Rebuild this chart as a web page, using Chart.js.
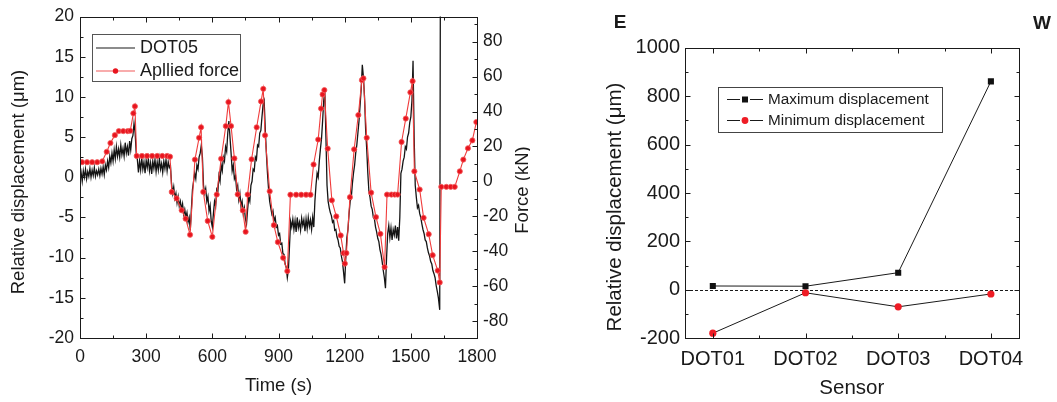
<!DOCTYPE html>
<html><head><meta charset="utf-8">
<script src="https://cdn.jsdelivr.net/npm/chart.js@4.4.0/dist/chart.umd.min.js"></script>
<style>
html,body{margin:0;padding:0;background:#fff;}
#wrap{position:relative;width:1057px;height:402px;overflow:hidden;}
#c1{position:absolute;left:0;top:0;}
#c2{position:absolute;left:530px;top:0;}
</style></head><body>
<div id="wrap"><canvas id="c1" width="530" height="402"></canvas><canvas id="c2" width="527" height="402"></canvas></div>
<script>
// ---------- data ----------
const timeTicks = [0,300,600,900,1200,1500,1800];
const dispTicks = [-20,-15,-10,-5,0,5,10,15,20];
const forceTicks = [-80,-60,-40,-20,0,20,40,60,80];

// DOT05 relative displacement [time s, displacement um]
const dot05 = [
[0,-0.3],[5,0.6],[10,-0.5],[15,0.8],[20,0.0],[25,1.0],[30,-0.2],[35,0.7],[40,0.1],[45,1.1],[50,0.0],[55,0.9],[60,0.2],[65,1.2],[70,0.1],[75,0.8],[80,0.3],[85,1.0],[90,0.2],[95,1.1],[100,0.4],[105,1.3],
[110,0.3],[115,1.5],[120,0.9],[125,2.0],[130,1.2],[135,2.6],[140,1.8],[145,3.0],[150,2.0],[155,3.4],[160,2.3],[165,3.8],[170,2.6],[175,3.5],[180,2.5],[185,4.0],[190,2.8],[195,3.6],[200,2.6],[205,4.3],[210,3.0],[215,3.8],[220,2.7],[225,4.5],[230,3.4],[235,4.8],[240,5.2],[245,6.7],[250,5.5],[255,3.0],
[260,2.2],[265,0.6],[270,2.0],[275,0.9],[280,2.4],[285,1.0],[290,1.9],[295,0.5],[300,2.1],[305,1.2],[310,2.3],[315,0.8],[320,1.8],[325,0.4],[330,2.0],[335,1.1],[340,2.2],[345,0.7],[350,1.9],[355,0.9],[360,2.3],[365,1.0],[370,1.7],[375,0.6],[380,2.0],[385,1.1],[390,2.2],[395,0.8],[400,1.9],[405,1.2],[410,1.5],
[415,-0.8],[420,-2.0],[425,-1.2],[430,-2.6],[435,-2.0],[440,-3.2],[445,-2.4],[450,-3.6],[455,-3.0],[460,-4.0],[465,-3.3],[470,-4.6],[475,-4.0],[480,-5.0],[485,-4.4],[490,-5.6],[495,-5.0],[500,-6.6],
[505,-4.0],[510,-1.5],[515,-0.5],[520,0.5],[525,-0.2],[530,1.5],[535,1.0],[540,2.5],[545,3.0],[550,4.0],[555,2.5],
[560,-1.0],[565,-2.0],[570,-1.4],[575,-3.0],[580,-2.4],[585,-4.2],[590,-3.5],[595,-5.5],[600,-6.2],
[605,-4.5],[610,-3.0],[615,-3.6],[620,-1.5],[625,-1.8],[630,0.2],[635,-0.5],[640,1.5],[645,0.8],[650,2.5],[655,2.0],[660,3.8],[665,3.2],[670,5.5],[675,7.0],[680,5.0],
[685,3.0],[690,0.8],[695,1.5],[700,-0.2],[705,0.2],[710,-1.5],[715,-1.0],[720,-2.8],[725,-2.0],[730,-3.6],[735,-3.0],[740,-4.5],[745,-3.8],[750,-5.2],[755,-5.8],
[760,-4.0],[765,-2.5],[770,-3.0],[775,-1.0],[780,-0.5],[785,1.0],[790,0.8],[795,2.5],[800,2.2],[805,4.0],[810,3.8],[815,5.5],[820,5.8],[825,7.5],[830,9.0],[835,9.5],
[840,6.0],[845,3.0],[850,0.5],[855,-1.5],[860,-3.0],[865,-3.8],[870,-4.6],[875,-4.2],[880,-5.4],[885,-5.0],[890,-6.2],[895,-6.0],[900,-7.2],[905,-7.0],[910,-8.3],[915,-8.2],[920,-9.5],[925,-9.6],[930,-10.8],[935,-11.2],[940,-12.5],[945,-11.5],
[950,-8.5],[955,-5.5],
[960,-6.2],[965,-5.2],[970,-6.5],[975,-5.4],[980,-6.8],[985,-5.0],[990,-6.3],[995,-5.6],[1000,-6.6],[1005,-5.1],[1010,-6.0],[1015,-5.3],[1020,-6.7],[1025,-5.2],[1030,-6.4],[1035,-5.0],[1040,-6.1],[1045,-5.3],[1050,-6.5],[1055,-5.0],[1060,-6.2],
[1065,-3.0],[1070,-1.0],[1075,0.5],[1080,0.0],[1085,2.0],[1090,3.5],[1095,4.8],[1100,7.0],[1105,9.5],[1110,10.8],
[1115,5.0],[1120,-1.0],[1125,-3.0],[1130,-3.8],[1135,-4.4],[1140,-4.8],[1145,-5.6],[1150,-5.4],[1155,-6.6],[1160,-6.5],[1165,-7.4],[1170,-7.8],[1175,-8.6],[1180,-8.8],[1185,-9.8],[1190,-10.5],[1195,-11.8],[1200,-13.2],
[1205,-10.0],[1210,-7.5],[1215,-6.5],[1220,-4.5],[1225,-3.0],[1230,-2.5],[1235,-0.8],[1240,0.5],[1245,1.5],[1250,3.0],[1255,4.0],[1260,5.5],[1265,7.0],[1270,9.0],[1275,11.0],[1280,14.0],[1285,12.5],
[1290,10.0],[1295,6.0],[1300,3.5],[1305,0.5],[1310,-1.8],[1315,-2.5],[1320,-3.6],[1325,-4.0],[1330,-5.0],[1335,-5.2],[1340,-6.2],[1345,-6.8],[1350,-7.6],[1355,-8.0],[1360,-9.0],[1365,-9.6],[1370,-10.5],[1375,-11.6],[1380,-12.5],[1385,-13.8],
[1390,-10.0],[1395,-7.0],
[1400,-6.0],[1405,-7.5],[1410,-6.3],[1415,-7.8],[1420,-6.5],[1425,-7.2],[1430,-6.0],[1435,-7.6],[1440,-6.2],[1445,-7.9],[1450,-5.0],
[1455,0.5],[1460,1.0],[1465,2.0],[1470,2.5],[1475,3.8],[1480,3.5],[1485,5.0],[1490,5.5],[1495,6.8],[1500,7.5],[1505,9.5],[1510,14.5],
[1515,5.0],[1520,-1.0],[1525,-2.5],[1530,-3.8],[1535,-3.5],[1540,-4.5],[1545,-5.0],[1550,-5.8],[1555,-6.5],[1560,-7.0],[1565,-7.8],[1570,-8.0],[1575,-8.8],[1580,-9.4],[1585,-9.8],[1590,-10.5],[1595,-10.8],[1600,-11.6],[1605,-12.0],[1610,-12.5],[1615,-13.5],[1620,-14.2],[1625,-15.0],[1631,-16.5],[1634,25]
];

// Applied force [time s, force kN]
const appliedForce = [
[9,11],[32,11],[55,11],[78,11],[101,11.5],[121,17],[138,22],[158,26.5],[176,28.8],[196,28.8],[216,28.8],[228,29],[242,39],[249,43],
[257,14.6],[281,14.6],[304,14.6],[327,14.6],[350,14.6],[373,14.6],[395,14.6],[408,14.2],
[416,-6],[438,-9.7],[461,-16.5],[479,-21.3],[499,-30.5],[521,12.5],[540,25],[549,31],[559,-6],[579,-22.6],[600,-31.7],
[620,-7.5],[640,13],[661,31.7],[673,45.4],[685,31.7],[700,13.2],[715,-7.4],[738,-16.6],[751,-28.8],
[760,-7.5],[778,12.7],[801,31],[821,45.8],[831,53],[839,26.4],[860,-5.6],[879,-25],[897,-34.7],[921,-43.7],[940,-51.3],
[954,-7.6],[980,-7.6],[1003,-7.6],[1025,-7.6],[1045,-7.6],[1059,9.7],[1080,24],[1093,41.7],[1100,49.8],[1108,52.3],
[1123,18.8],[1142,-10.8],[1162,-20],[1182,-30.9],[1195,-41],[1201,-47],[1208,-41],[1224,-9],[1243,18.4],[1262,38],[1278,58],[1285,59],
[1300,25],[1320,-6.4],[1342,-20.4],[1362,-30],[1381,-49],[1392,-7.5],[1412,-7.5],[1427,-7.5],[1440,-7.5],
[1458,22.6],[1477,36],[1498,51],[1508,57.4],[1516,5.8],[1540,-4.6],[1558,-20.8],[1581,-30.2],[1599,-42.2],[1622,-51],[1631,-57.8],
[1638,-3.1],[1661,-3.1],[1681,-3.1],[1699,-3.1],[1722,5.8],[1738,12.5],[1759,19],[1779,23.5],[1797,34]
];

const sensors = ['DOT01','DOT02','DOT03','DOT04'];
const maxDisp = [16, 15, 71, 861];
const minDisp = [-179, -12, -70, -17];
const sensorDispTicks = [-200,0,200,400,600,800,1000];

// ---------- helpers ----------
const FONT = '"Liberation Sans", Arial, Helvetica, sans-serif';
const INK = '#1a1a1a';
const plain = v => String(v);

function minorOf(ticks, min, max){
  const step = ticks[1]-ticks[0];
  const out = [];
  for (let i=0;i<ticks.length-1;i++) out.push((ticks[i]+ticks[i+1])/2);
  out.push(ticks[0]-step/2, ticks[ticks.length-1]+step/2);
  return out.filter(v => v>=min && v<=max);
}
function crisp(v){ return Math.round(v)+0.5; }
function drawTickSet(ctx, chart, scaleId, majors, sides){
  const s = chart.scales[scaleId], a = chart.chartArea;
  const minors = minorOf(majors, s.min, s.max);
  const put = (v, len) => {
    const p = crisp(s.getPixelForValue(v));
    sides.forEach(side => {
      ctx.beginPath();
      if (side==='bottom'){ ctx.moveTo(p, crisp(a.bottom)); ctx.lineTo(p, crisp(a.bottom)-len); }
      if (side==='top'){ ctx.moveTo(p, crisp(a.top)); ctx.lineTo(p, crisp(a.top)+len); }
      if (side==='left'){ ctx.moveTo(crisp(a.left), p); ctx.lineTo(crisp(a.left)+len, p); }
      if (side==='right'){ ctx.moveTo(crisp(a.right), p); ctx.lineTo(crisp(a.right)-len, p); }
      ctx.stroke();
    });
  };
  majors.filter(v=>v>=s.min&&v<=s.max).forEach(v=>put(v,5));
  minors.forEach(v=>put(v,3));
}
function frame(ctx, a){
  ctx.strokeStyle = INK; ctx.lineWidth = 1;
  ctx.strokeRect(crisp(a.left), crisp(a.top), Math.round(a.right)-Math.round(a.left), Math.round(a.bottom)-Math.round(a.top));
}
function text(ctx, str, x, y, size, opts={}){
  ctx.save();
  ctx.font = (opts.bold?'bold ':'') + size + 'px ' + FONT;
  ctx.fillStyle = opts.color || INK;
  ctx.textAlign = opts.align || 'center';
  ctx.textBaseline = 'middle';
  ctx.translate(x, y);
  if (opts.rot) ctx.rotate(opts.rot);
  ctx.fillText(str, 0, 0);
  ctx.restore();
}

// ---------- chart 1: time history ----------
const plot1 = {
  id: 'plot1',
  afterDraw(chart){
    const ctx = chart.ctx, a = chart.chartArea;
    ctx.save();
    frame(ctx, a);
    ctx.strokeStyle = INK; ctx.lineWidth = 1;
    drawTickSet(ctx, chart, 'x', timeTicks, ['bottom','top']);
    drawTickSet(ctx, chart, 'y', dispTicks, ['left']);
    drawTickSet(ctx, chart, 'y2', forceTicks, ['right']);
    text(ctx, 'Relative displacement (\u03bcm)', 19, 182, 18.5, {rot:-Math.PI/2});
    text(ctx, 'Time (s)', (a.left+a.right)/2, 386, 18.5);
    text(ctx, 'Force (kN)', 523, 190, 18.5, {rot:-Math.PI/2});
    // legend
    ctx.strokeStyle = '#555'; ctx.lineWidth = 1;
    ctx.strokeRect(92.5, 34.5, 148, 47);
    ctx.strokeStyle = INK; ctx.lineWidth = 1.1;
    ctx.beginPath(); ctx.moveTo(96, 48); ctx.lineTo(135, 48); ctx.stroke();
    ctx.strokeStyle = '#f25a5a'; ctx.lineWidth = 1.2;
    ctx.beginPath(); ctx.moveTo(96, 71); ctx.lineTo(135, 71); ctx.stroke();
    ctx.fillStyle = '#e8141e'; ctx.beginPath(); ctx.arc(115.5, 71, 2.7, 0, Math.PI*2); ctx.fill();
    text(ctx, 'DOT05', 140, 48, 18, {align:'left'});
    text(ctx, 'Apllied force', 140, 71, 18, {align:'left'});
    ctx.restore();
  }
};

new Chart(document.getElementById('c1'), {
  type: 'line',
  data: { datasets: [
    { label: 'DOT05', data: dot05.map(([x,y])=>({x,y})), yAxisID: 'y',
      borderColor: '#141414', borderWidth: 1.3, pointRadius: 0, tension: 0, order: 2 },
    { label: 'Apllied force', data: appliedForce.map(([x,y])=>({x,y})), yAxisID: 'y2',
      borderColor: '#f03c3c', borderWidth: 1.1, pointRadius: 2.6, pointBackgroundColor: '#e8141e',
      pointBorderColor: '#f26060', pointBorderWidth: 0.8, tension: 0, order: 1 }
  ]},
  options: {
    responsive: false, animation: false, devicePixelRatio: 1,
    layout: { padding: { top: 16, left: 0, right: 0, bottom: 0 } },
    plugins: { legend: { display: false }, tooltip: { enabled: false } },
    scales: {
      x: { type: 'linear', position: 'bottom', min: 0, max: 1800,
        afterBuildTicks: s => { s.ticks = timeTicks.map(v=>({value:v})); },
        afterFit: s => { s.height = 64; },
        grid: { display: false, drawTicks: false }, border: { display: false },
        ticks: { font: { family: FONT, size: 17.5 }, color: INK, padding: 9, maxRotation: 0, autoSkip: false, callback: plain } },
      y: { type: 'linear', position: 'left', min: -20, max: 20,
        afterBuildTicks: s => { s.ticks = dispTicks.map(v=>({value:v})); },
        afterFit: s => { s.width = 80; },
        grid: { display: false, drawTicks: false }, border: { display: false },
        ticks: { font: { family: FONT, size: 17.5 }, color: INK, padding: 6, autoSkip: false, callback: plain } },
      y2: { type: 'linear', position: 'right', min: -89.6, max: 94.4,
        afterBuildTicks: s => { s.ticks = forceTicks.map(v=>({value:v})); },
        afterFit: s => { s.width = 53; },
        grid: { display: false, drawTicks: false }, border: { display: false },
        ticks: { font: { family: FONT, size: 17.5 }, color: INK, padding: 6, autoSkip: false, callback: plain } }
    }
  },
  plugins: [plot1]
});

// ---------- chart 2: per-sensor extremes ----------
const plot2 = {
  id: 'plot2',
  beforeDatasetsDraw(chart){
    const ctx = chart.ctx, a = chart.chartArea, y = crisp(chart.scales.y.getPixelForValue(0));
    ctx.save();
    ctx.strokeStyle = INK; ctx.lineWidth = 1; ctx.setLineDash([3,2]);
    ctx.beginPath(); ctx.moveTo(a.left, y); ctx.lineTo(a.right, y); ctx.stroke();
    ctx.restore();
  },
  afterDraw(chart){
    const ctx = chart.ctx, a = chart.chartArea;
    ctx.save();
    frame(ctx, a);
    ctx.strokeStyle = INK; ctx.lineWidth = 1;
    drawTickSet(ctx, chart, 'x', [0,1,2,3], ['bottom','top']);
    drawTickSet(ctx, chart, 'y', sensorDispTicks, ['left','right']);
    text(ctx, 'Relative displacement (\u03bcm)', 85, 207, 20.5, {rot:-Math.PI/2});
    text(ctx, 'Sensor', (a.left+a.right)/2, 388, 20.5);
    text(ctx, 'E', 90, 23, 19, {bold:true});
    text(ctx, 'W', 512, 24, 19, {bold:true});
    // legend
    ctx.strokeStyle = '#444'; ctx.lineWidth = 1;
    ctx.strokeRect(188.5, 87.5, 224, 45);
    ctx.strokeStyle = INK; ctx.lineWidth = 1;
    [[99.5],[120.5]].forEach(([yy]) => {
      ctx.beginPath(); ctx.moveTo(197, yy); ctx.lineTo(210, yy); ctx.moveTo(220, yy); ctx.lineTo(233, yy); ctx.stroke();
    });
    ctx.fillStyle = '#111'; ctx.fillRect(212, 96.5, 6, 6);
    ctx.fillStyle = '#ee1c25'; ctx.beginPath(); ctx.arc(215, 120.5, 3.4, 0, Math.PI*2); ctx.fill();
    text(ctx, 'Maximum displacement', 238, 100, 15.3, {align:'left'});
    text(ctx, 'Minimum displacement', 238, 120.5, 15.3, {align:'left'});
    ctx.restore();
  }
};

new Chart(document.getElementById('c2'), {
  type: 'line',
  data: { datasets: [
    { label: 'Maximum displacement', data: maxDisp.map((v,i)=>({x:i,y:v})),
      borderColor: '#1a1a1a', borderWidth: 1, pointStyle: 'rect', pointRadius: 4.3,
      pointBackgroundColor: '#111', pointBorderColor: '#111', pointBorderWidth: 0, tension: 0 },
    { label: 'Minimum displacement', data: minDisp.map((v,i)=>({x:i,y:v})),
      borderColor: '#1a1a1a', borderWidth: 1, pointStyle: 'circle', pointRadius: 3.6,
      pointBackgroundColor: '#ee1c25', pointBorderColor: '#ee1c25', pointBorderWidth: 0, tension: 0 }
  ]},
  options: {
    responsive: false, animation: false, devicePixelRatio: 1,
    layout: { padding: { top: 47.7, left: 0, right: 38.3, bottom: 0 } },
    plugins: { legend: { display: false }, tooltip: { enabled: false } },
    scales: {
      x: { type: 'linear', position: 'bottom', min: -0.3, max: 3.3,
        afterBuildTicks: s => { s.ticks = sensors.map((_,i)=>({value:i})); },
        afterFit: s => { s.height = 63.7; },
        grid: { display: false, drawTicks: false }, border: { display: false },
        ticks: { font: { family: FONT, size: 20 }, color: INK, padding: 9, maxRotation: 0, autoSkip: false,
          callback: v => sensors[v] } },
      y: { type: 'linear', position: 'left', min: -200, max: 1000,
        afterBuildTicks: s => { s.ticks = sensorDispTicks.map(v=>({value:v})); },
        afterFit: s => { s.width = 155; },
        grid: { display: false, drawTicks: false }, border: { display: false },
        ticks: { font: { family: FONT, size: 20 }, color: INK, padding: 5, autoSkip: false, callback: plain } }
    }
  },
  plugins: [plot2]
});
</script>
</body></html>
